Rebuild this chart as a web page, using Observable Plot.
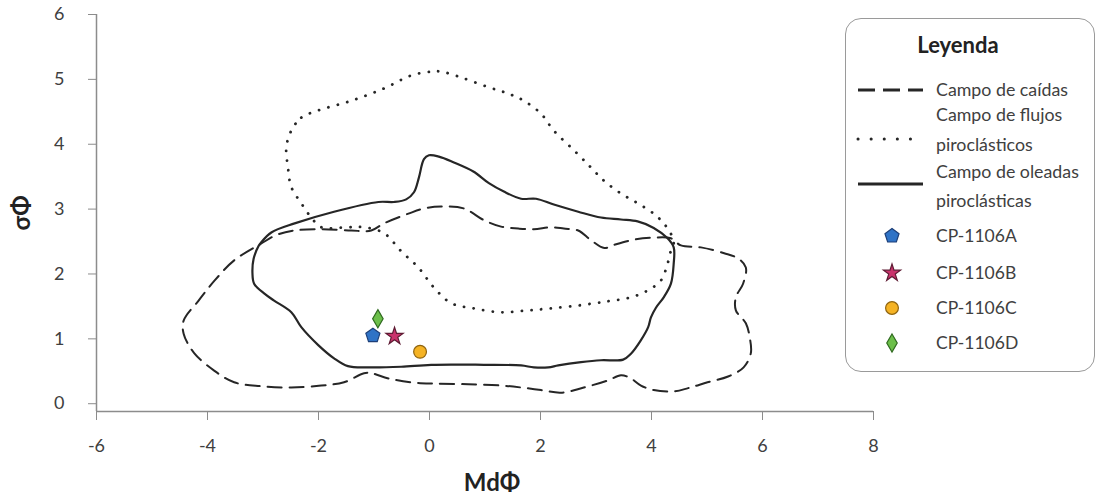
<!DOCTYPE html>
<html>
<head>
<meta charset="utf-8">
<script src="https://cdn.jsdelivr.net/npm/d3@7"></script>
<script src="https://cdn.jsdelivr.net/npm/@observablehq/plot@0.6"></script>
<style>
  html, body { margin: 0; padding: 0; background: #fff; }
  #wrap { position: relative; width: 1096px; height: 496px; font-family: Lato, "Open Sans", sans-serif; }
  #legend { position: absolute; left: 845px; top: 18px; width: 250px; height: 354px; box-sizing: border-box;
            border: 1.5px solid #9a9a9a; border-radius: 16px; background: #fff; }
  #legend svg { position: absolute; left: 0; top: 0; }
</style>
</head>
<body>
<div id="wrap"><div id="chart"></div><div id="legend"></div></div>
<script>
// ---- tick values ----
const xTicks = [-6, -4, -2, 0, 2, 4, 6, 8];
const yTicks = [0, 1, 2, 3, 4, 5, 6];

// ---- Campo de caídas (dashed field) ----
const caidasX = [-3.03,-3.52,-3.87,-4.16,-4.43,-4.43,-4.24,-3.88,-3.52,-3.03,-2.49,-1.95,-1.54,-1.18,-1.05,-0.74,-0.33,0.08,0.70,1.29,1.65,2.01,2.37,2.78,3.22,3.45,3.63,3.81,4.04,4.40,4.66,5.01,5.38,5.66,5.79,5.77,5.70,5.52,5.52,5.65,5.70,5.56,5.31,4.89,4.53,4.35,4.04,3.69,3.33,3.15,2.91,2.68,2.42,2.19,1.88,1.60,1.29,0.98,0.62,0.21,-0.10,-0.38,-0.82,-1.05,-1.41,-1.95,-2.44,-2.76];
const caidasY = [2.47,2.21,1.90,1.59,1.28,1.08,0.78,0.51,0.33,0.27,0.25,0.28,0.33,0.47,0.47,0.39,0.33,0.31,0.30,0.28,0.25,0.21,0.17,0.25,0.36,0.44,0.39,0.28,0.21,0.19,0.24,0.33,0.42,0.56,0.78,1.02,1.24,1.44,1.64,1.85,2.10,2.24,2.32,2.41,2.44,2.55,2.56,2.53,2.45,2.40,2.52,2.67,2.70,2.72,2.69,2.70,2.73,2.83,3.01,3.04,3.01,2.93,2.78,2.67,2.67,2.69,2.67,2.60];

// ---- Campo de flujos piroclásticos (dotted field) ----
const flujosX = [-2.49,-2.31,-2.01,-1.41,-0.82,-0.33,0.03,0.21,0.57,1.06,1.42,1.70,2.01,2.24,2.60,2.91,3.14,3.45,3.75,4.04,4.22,4.35,4.40,4.35,4.29,4.17,3.94,3.63,3.22,2.73,2.19,1.78,1.29,0.80,0.39,0.08,-0.20,-0.51,-0.82,-1.18,-1.47,-1.95,-2.13,-2.31,-2.49,-2.55,-2.58];
const flujosY = [4.21,4.41,4.52,4.67,4.86,5.06,5.12,5.12,5.03,4.88,4.78,4.67,4.47,4.21,3.91,3.64,3.44,3.24,3.09,2.93,2.78,2.62,2.47,2.36,2.16,1.90,1.75,1.64,1.58,1.52,1.47,1.44,1.41,1.47,1.55,1.79,2.10,2.35,2.63,2.72,2.72,2.72,2.87,3.09,3.34,3.64,3.95];

// ---- Campo de oleadas piroclásticas (solid field) ----
const oleadasX = [-3.19,-3.16,-2.98,-2.80,-2.49,-2.31,-2.00,-1.72,-1.47,-1.10,-0.51,0.03,0.98,1.65,1.88,2.14,2.32,2.73,3.09,3.49,3.63,3.81,3.94,3.99,4.08,4.22,4.35,4.40,4.40,4.29,4.04,3.75,3.45,3.09,2.68,2.24,1.92,1.65,1.34,1.07,0.79,0.44,0.17,-0.01,-0.10,-0.19,-0.28,-0.42,-0.64,-0.92,-1.72,-2.43,-2.85,-3.03,-3.08,-3.17];
const oleadasY = [2.01,1.85,1.70,1.59,1.41,1.18,0.90,0.70,0.58,0.56,0.57,0.60,0.60,0.59,0.56,0.56,0.59,0.64,0.67,0.68,0.77,0.98,1.18,1.33,1.48,1.64,1.85,2.16,2.41,2.55,2.71,2.81,2.84,2.87,2.96,3.07,3.16,3.16,3.27,3.40,3.58,3.72,3.81,3.83,3.77,3.49,3.26,3.15,3.11,3.11,2.96,2.78,2.64,2.49,2.43,2.23];

// ---- samples ----
const samples = ["CP-1106A", "CP-1106B", "CP-1106C", "CP-1106D"];
const sampleMd = [-1.02, -0.63, -0.17, -0.93];
const sampleSigma = [1.05, 1.04, 0.80, 1.31];
const sampleFill = ["#2f73c6", "#c9336c", "#f5b324", "#6cbf4a"];
const sampleStroke = ["#1d3f78", "#5e1b33", "#8f6410", "#2f6a1f"];

const fieldNames = ["Campo de caídas", ["Campo de flujos", "piroclásticos"], ["Campo de oleadas", "piroclásticas"]];

// custom pentagon symbol (size = area of circle with radius r)
const pentagon = {
  draw(context, size) {
    const R = Math.sqrt(size / Math.PI);
    for (let k = 0; k < 5; k++) {
      const a = -Math.PI / 2 + k * 2 * Math.PI / 5;
      const px = R * Math.cos(a), py = R * Math.sin(a);
      if (k === 0) context.moveTo(px, py); else context.lineTo(px, py);
    }
    context.closePath();
  }
};
const sampleSymbol = [pentagon, d3.symbolStar, d3.symbolCircle, d3.symbolDiamond];
const sampleR = [7.4, 5.4, 6.4, 5.5];

const lineColor = "#262626";
const axisColor = "#8c8c8c";
const textColor = "#404040";
const FONT = "Lato, 'Open Sans', sans-serif";
const fmt = d => (d < 0 ? "-" + Math.abs(d) : String(d));

const marks = [
  Plot.ruleX([-6], {y1: -0.12, y2: 6, stroke: axisColor, strokeWidth: 1.5}),
  Plot.ruleY([-0.12], {x1: -6, x2: 8, stroke: axisColor, strokeWidth: 1.5}),
  Plot.axisY({ticks: yTicks, tickFormat: fmt, tickSize: 8, tickPadding: 24, stroke: axisColor, fill: textColor, fontSize: 18,
              label: "σΦ", labelAnchor: "center", labelArrow: "none", labelOffset: 84}),
  Plot.axisX({ticks: xTicks, tickFormat: fmt, tickSize: 9, tickPadding: 19, stroke: axisColor, fill: textColor, fontSize: 18,
              label: null}),
  Plot.line(caidasX, {x: caidasX, y: caidasY, curve: "catmull-rom-closed", stroke: lineColor, strokeWidth: 2, strokeDasharray: "14,8"}),
  Plot.line(flujosX, {x: flujosX, y: flujosY, curve: "catmull-rom-closed", stroke: lineColor, strokeWidth: 2.8, strokeDasharray: "0.1,9.6", strokeLinecap: "round"}),
  Plot.line(oleadasX, {x: oleadasX, y: oleadasY, curve: "catmull-rom-closed", stroke: lineColor, strokeWidth: 2.2})
];
samples.forEach((s, i) => {
  marks.push(Plot.dot([s], {x: [sampleMd[i]], y: [sampleSigma[i]], symbol: sampleSymbol[i], r: sampleR[i],
    fill: sampleFill[i], stroke: sampleStroke[i], strokeWidth: 1.2}));
});

const chart = Plot.plot({
  width: 1096, height: 496,
  marginLeft: 96, marginRight: 223, marginTop: 14, marginBottom: 85,
  style: {fontFamily: FONT, background: "#fff"},
  x: {domain: [-6, 8]},
  y: {domain: [-0.12, 6]},
  marks
});
document.getElementById("chart").appendChild(chart);

// axis titles
d3.select(chart).append("text")
  .attr("x", 492).attr("y", 491).attr("text-anchor", "middle")
  .attr("font-family", FONT).attr("font-weight", "bold").attr("font-size", 24)
  .attr("fill", "#222").text("MdΦ");
d3.select(chart).selectAll("g[aria-label='y-axis label'] text")
  .attr("font-weight", "bold").attr("font-size", 24).attr("fill", "#222");

// ---- legend ----
const lg = d3.select("#legend").append("svg").attr("width", 250).attr("height", 354)
  .attr("font-family", FONT);
lg.append("text").attr("x", 112).attr("y", 34).attr("text-anchor", "middle")
  .attr("font-weight", "bold").attr("font-size", 22).attr("fill", "#222").text("Leyenda");
const lineRows = [
  {y: 71, dash: "17,8", w: 2.8, cap: "butt", lines: [[fieldNames[0], 77]]},
  {y: 120, dash: "0.1,13", w: 3, cap: "round", lines: [[fieldNames[1][0], 102], [fieldNames[1][1], 132]]},
  {y: 165, dash: null, w: 3, cap: "butt", lines: [[fieldNames[2][0], 159], [fieldNames[2][1], 188]]}
];
lineRows.forEach(r => {
  const l = lg.append("line").attr("x1", 12).attr("x2", 77).attr("y1", r.y).attr("y2", r.y)
    .attr("stroke", lineColor).attr("stroke-width", r.w).attr("stroke-linecap", r.cap);
  if (r.dash) l.attr("stroke-dasharray", r.dash);
  r.lines.forEach(([t, y]) => lg.append("text").attr("x", 90).attr("y", y).attr("font-size", 17.8)
    .attr("fill", textColor).text(t));
});
const rowY = [217, 254, 289, 324];
samples.forEach((s, i) => {
  const sz = Math.PI * sampleR[i] * sampleR[i];
  lg.append("path").attr("d", d3.symbol(sampleSymbol[i], sz)())
    .attr("transform", `translate(46,${rowY[i]})`)
    .attr("fill", sampleFill[i]).attr("stroke", sampleStroke[i]).attr("stroke-width", 1.2);
  lg.append("text").attr("x", 90).attr("y", rowY[i] + 6).attr("font-size", 17.5)
    .attr("fill", textColor).text(s);
});
</script>
</body>
</html>
